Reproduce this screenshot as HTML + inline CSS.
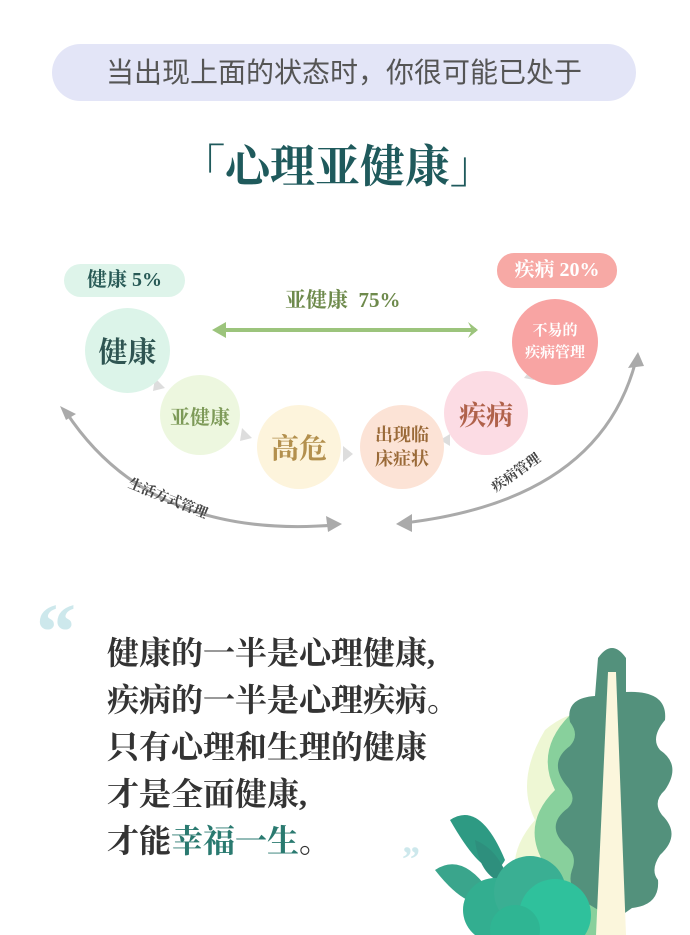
<!DOCTYPE html>
<html><head><meta charset="utf-8"><style>
body{margin:0;width:690px;height:935px;background:#fff;position:relative;overflow:hidden;font-family:"Liberation Serif","Noto Serif CJK SC",serif}
.a{position:absolute}
.pill{left:52px;top:44px;width:584px;height:57px;border-radius:29px;background:#e3e5f7;color:#555;font:28px "Liberation Sans","Noto Sans CJK SC",sans-serif;text-align:center;line-height:57px}
.title{left:180px;top:130px;font-size:45px;font-weight:bold;color:#1f5a5c}
.c{position:absolute;border-radius:50%;display:flex;align-items:center;justify-content:center;text-align:center;font-weight:bold}
.q{left:107px;font-size:32px;font-weight:bold;color:#333;line-height:47px;top:630px}
</style></head><body>
<div class="a pill">当出现上面的状态时，你很可能已处于</div>
<div class="a title">「心理亚健康」</div>

<svg class="a" style="left:0;top:0" width="690" height="600">
<line x1="218" y1="330" x2="476" y2="330" stroke="#9cc47c" stroke-width="4"/>
<path d="M212,330L226,322L226,338z" fill="#9cc47c"/>
<path d="M478,330L468,322L472,330L468,338z" fill="#9cc47c"/>
<path d="M66,412 Q150,540 335,525" fill="none" stroke="#aaa" stroke-width="3"/>
<path d="M60,406L76,414L66,420z" fill="#aaa"/><path d="M342,524L326,516L328,532z" fill="#aaa"/>
<path d="M404,523 Q600,500 636,360" fill="none" stroke="#aaa" stroke-width="3"/>
<path d="M396,524L412,514L412,532z" fill="#aaa"/><path d="M638,352L628,368L644,366z" fill="#aaa"/>
<path d="M155,378l10,10l-12,3z M242,428l10,10l-12,3z M343,446l10,8l-10,8z M440,440l10,-6l0,12z M524,378l8,-10l2,12z" fill="#ddd"/>
</svg>

<div class="a" style="left:64px;top:264px;width:121px;height:33px;border-radius:17px;background:#def4ea;color:#275955;font-weight:bold;font-size:20px;line-height:33px;text-align:center">健康 5%</div>
<div class="a" style="left:497px;top:253px;width:120px;height:35px;border-radius:17px;background:#f7a9a5;color:#fff;font-weight:bold;font-size:20px;line-height:35px;text-align:center">疾病 20%</div>
<div class="a" style="left:285px;top:284px;font-size:21px;font-weight:bold;color:#6e8a4c">亚健康&nbsp; 75%</div>

<div class="c" style="left:85px;top:308px;width:85px;height:85px;background:#dcf4e9;color:#2f5552;font-size:29px">健康</div>
<div class="c" style="left:160px;top:375px;width:80px;height:80px;background:#edf7df;color:#7d9a58;font-size:20px">亚健康</div>
<div class="c" style="left:257px;top:405px;width:84px;height:84px;background:#fdf4dc;color:#b3904e;font-size:28px">高危</div>
<div class="c" style="left:360px;top:405px;width:84px;height:84px;background:#fce3d6;color:#9a6a38;font-size:18px;line-height:24px">出现临<br>床症状</div>
<div class="c" style="left:444px;top:371px;width:84px;height:84px;background:#fcdce4;color:#b0624b;font-size:27px">疾病</div>
<div class="c" style="left:512px;top:299px;width:86px;height:86px;background:#f8a4a3;color:#fff;font-size:15px;line-height:22px">不易的<br>疾病管理</div>

<div class="a" style="left:133px;top:473px;font-size:14px;font-weight:bold;color:#444;transform:rotate(22deg);transform-origin:left top">生活方式管理</div>
<div class="a" style="left:487px;top:480px;font-size:14px;font-weight:bold;color:#444;transform:rotate(-35deg);transform-origin:left top">疾病管理</div>

<div class="a" style="left:36px;top:588px;font-size:80px;color:#cde8ec;font-family:'Liberation Serif',serif;font-weight:bold">“</div>
<div class="a" style="left:402px;top:838px;font-size:36px;color:#cde8ec;font-family:'Liberation Serif',serif;font-weight:bold">”</div>
<div class="a q">健康的一半是心理健康,<br>疾病的一半是心理疾病。<br>只有心理和生理的健康<br>才是全面健康,<br>才能<span style="color:#2a7a70">幸福一生</span>。</div>

<svg class="a" style="left:420px;top:630px" width="270" height="305">
<path d="M125,100 Q95,150 115,190 Q80,230 105,270 L115,305 L200,305 L200,90 Q160,70 125,100z" fill="#eef7d4"/>
<path d="M150,85 Q115,120 135,160 Q100,195 125,235 Q100,270 130,305 L200,305 L200,80z" fill="#88d09c"/>
<path d="M178,28 Q192,8 206,28 L206,62 Q248,60 245,90 Q230,108 240,120 Q262,135 245,160 Q232,172 242,185 Q262,205 240,225 Q230,240 238,250 Q240,275 212,278 L195,290 L170,275 Q145,260 152,240 Q158,225 145,215 Q125,195 148,178 Q158,168 146,155 Q128,132 150,116 Q160,105 150,92 Q145,68 175,66z" fill="#53917c"/>
<path d="M188,42 L196,42 L206,305 L176,305z" fill="#fbf6dc"/>
<path d="M30,190 Q60,170 85,230 Q70,260 30,190z" fill="#2e9a83"/>
<path d="M15,240 Q45,220 75,270 Q50,285 15,240z" fill="#3aa58c"/>
<path d="M55,210 Q80,220 90,255 Q60,250 55,210z" fill="#2e8f7d"/>
<circle cx="75" cy="280" r="32" fill="#33ae90"/><circle cx="110" cy="262" r="36" fill="#3aaf93"/><circle cx="135" cy="285" r="36" fill="#2fc19c"/><circle cx="95" cy="300" r="25" fill="#2fb593"/>
</svg>
</body></html>
